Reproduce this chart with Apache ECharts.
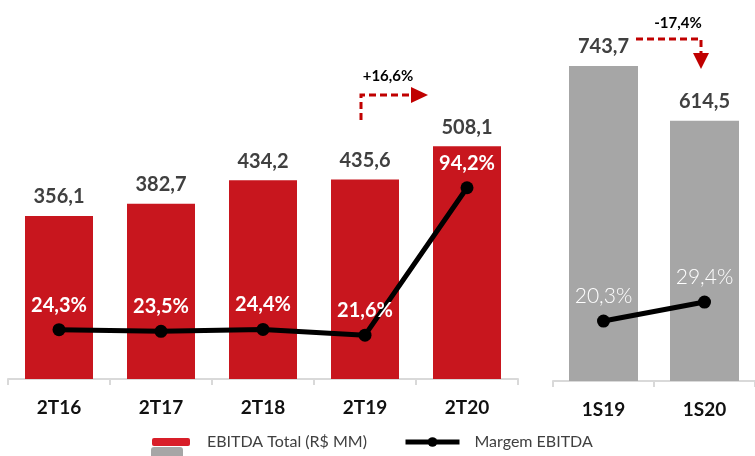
<!DOCTYPE html>
<html>
<head>
<meta charset="utf-8">
<script src="https://cdn.jsdelivr.net/npm/echarts@6/dist/echarts.min.js"></script>
<style>
html,body{margin:0;padding:0;background:#fff;}
#chart{width:755px;height:456px;}
</style>
</head>
<body>
<div id="chart"></div>
<script>
// Data
const quarterCats = ['2T16', '2T17', '2T18', '2T19', '2T20'];
const quarterEbitda = [356.1, 382.7, 434.2, 435.6, 508.1];
const quarterMargin = [24.3, 23.5, 24.4, 21.6, 94.2];
const semesterCats = ['1S19', '1S20'];
const semesterEbitda = [743.7, 614.5];
const semesterMargin = [20.3, 29.4];
const changeQuarter = '+16,6%';
const changeSemester = '-17,4%';

const FONT = 'Lato';
const RED = '#c8161e';
const GRAY = '#a6a6a6';
const fmt = v => v.toFixed(1).replace('.', ',');

const chart = echarts.init(document.getElementById('chart'), null, {renderer: 'canvas'});

const axisCommon = {
  type: 'category',
  boundaryGap: true,
  axisLine: {show: true, lineStyle: {color: '#d9d9d9', width: 2}},
  axisTick: {show: true, length: 6, alignWithLabel: false, lineStyle: {color: '#d9d9d9', width: 2}},
  axisLabel: {color: '#111', fontFamily: FONT, fontWeight: 'bold', fontSize: 19, margin: 19}
};

const option = {
  animation: false,
  backgroundColor: '#fff',
  grid: [
    {left: 8, right: 237, top: 20, bottom: 77},
    {left: 553, right: -5, top: 20, bottom: 75}
  ],
  xAxis: [
    Object.assign({gridIndex: 0, data: quarterCats}, axisCommon),
    Object.assign({gridIndex: 1, data: semesterCats}, axisCommon)
  ],
  yAxis: [
    {gridIndex: 0, type: 'value', min: 0, max: 784, show: false},
    {gridIndex: 0, type: 'value', min: 0, max: 176.8, show: false},
    {gridIndex: 1, type: 'value', min: 0, max: 852, show: false},
    {gridIndex: 1, type: 'value', min: -8.4, max: 164.5, show: false}
  ],
  legend: [
    {
      left: 147, top: 429,
      itemWidth: 38, itemHeight: 8, icon: 'roundRect',
      data: [{name: 'EBITDA Total (R$ MM)', itemStyle: {color: '#d81e29'}}],
      textStyle: {color: '#404040', fontFamily: FONT, fontSize: 16, padding: [0, 0, 0, 12]}
    },
    {
      left: 398, top: 429,
      itemWidth: 54, itemHeight: 12,
      lineStyle: {width: 5, color: '#000'},
      itemStyle: {color: '#000'},
      data: ['Margem EBITDA'],
      textStyle: {color: '#404040', fontFamily: FONT, fontSize: 16, padding: [0, 0, 0, 10]}
    }
  ],
  series: [
    {
      name: 'EBITDA Total (R$ MM)', type: 'bar',
      xAxisIndex: 0, yAxisIndex: 0,
      data: quarterEbitda, barWidth: 68,
      itemStyle: {color: RED},
      label: {show: true, position: 'top', distance: 9, formatter: p => fmt(p.value),
        color: '#404040', fontFamily: FONT, fontWeight: 'bold', fontSize: 20}
    },
    {
      name: 'Margem EBITDA', type: 'line',
      xAxisIndex: 0, yAxisIndex: 1,
      data: quarterMargin,
      symbol: 'circle', symbolSize: 13,
      lineStyle: {color: '#000', width: 5},
      itemStyle: {color: '#000'},
      label: {show: true, position: 'top', distance: 8, formatter: p => fmt(p.value) + '%',
        color: '#fff', fontFamily: FONT, fontWeight: 'bold', fontSize: 20},
      z: 5
    },
    {
      name: 'EBITDA Semestral', type: 'bar',
      xAxisIndex: 1, yAxisIndex: 2,
      data: semesterEbitda, barWidth: 69,
      itemStyle: {color: GRAY},
      label: {show: true, position: 'top', distance: 9, formatter: p => fmt(p.value),
        color: '#404040', fontFamily: FONT, fontWeight: 'bold', fontSize: 20}
    },
    {
      name: 'Margem EBITDA', type: 'line',
      xAxisIndex: 1, yAxisIndex: 3,
      data: semesterMargin,
      symbol: 'circle', symbolSize: 13,
      lineStyle: {color: '#000', width: 5},
      itemStyle: {color: '#000'},
      label: {show: true, position: 'top', distance: 8, formatter: p => fmt(p.value) + '%',
        color: '#fff', fontFamily: FONT, fontWeight: 300, fontSize: 21},
      z: 5
    }
  ],
  graphic: [
    // gray legend swatch
    {type: 'rect', shape: {x: 151, y: 447, width: 32, height: 14, r: 3}, style: {fill: GRAY}},
    // +16,6% annotation
    {type: 'text', style: {x: 388, y: 76, text: changeQuarter, fill: '#000', font: 'bold 15px ' + FONT, align: 'center', verticalAlign: 'middle'}},
    {type: 'polyline', shape: {points: [[361, 120], [361, 95], [413, 95]]},
      style: {stroke: '#c00000', lineWidth: 3, lineDash: [7, 4], fill: null}},
    {type: 'polygon', shape: {points: [[411, 87], [428, 95], [411, 103]]}, style: {fill: '#c00000'}},
    // -17,4% annotation
    {type: 'text', style: {x: 678, y: 23, text: changeSemester, fill: '#000', font: 'bold 15px ' + FONT, align: 'center', verticalAlign: 'middle'}},
    {type: 'polyline', shape: {points: [[636, 39], [701, 39], [701, 54]]},
      style: {stroke: '#c00000', lineWidth: 3, lineDash: [7, 4], fill: null}},
    {type: 'polygon', shape: {points: [[693, 53], [709, 53], [701, 69]]}, style: {fill: '#c00000'}}
  ]
};

chart.setOption(option);
</script>
</body>
</html>
